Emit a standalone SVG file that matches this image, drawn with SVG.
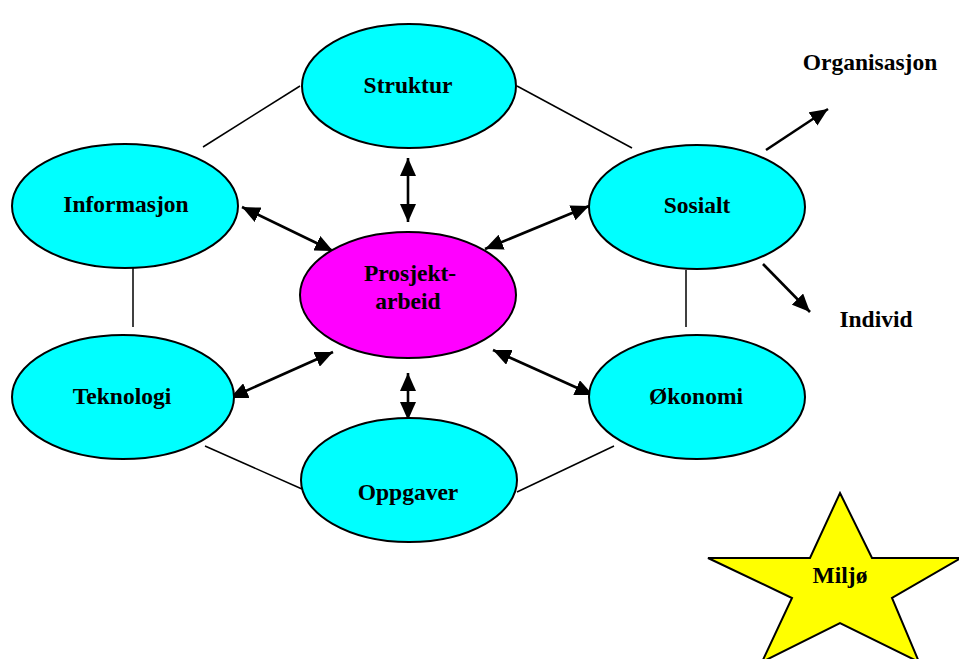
<svg xmlns="http://www.w3.org/2000/svg" width="959" height="659" viewBox="0 0 959 659">
  <defs>
    <style>
      .cyan { fill: #00ffff; stroke: #000; stroke-width: 2; }
      .magenta { fill: #ff00ff; stroke: #000; stroke-width: 2; }
      .star { fill: #ffff00; stroke: #000; stroke-width: 2; stroke-linejoin: miter; }
      .lbl { font-family: "Liberation Serif", "Times New Roman", serif; font-weight: bold; font-size: 23.5px; fill: #000; text-anchor: middle; }
      .link { stroke: #000; stroke-width: 1.5; fill: none; }
      .arrow { stroke: #000; stroke-width: 2.6; fill: none; marker-end: url(#head); }
      .both { marker-start: url(#head); }
    </style>
    <marker id="head" markerUnits="userSpaceOnUse" viewBox="0 0 18 16" refX="18" refY="8" markerWidth="18" markerHeight="16" orient="auto-start-reverse">
      <path d="M0,0 L18,8 L0,16 z" fill="#000"/>
    </marker>
  </defs>

  <rect width="959" height="659" fill="#fff"/>

  <!-- connectors -->
  <g id="connectors">
    <line class="link" x1="300" y1="86" x2="203" y2="147"/>
    <line class="link" x1="517" y1="86" x2="632" y2="148"/>
    <line class="link" x1="133" y1="268" x2="133" y2="327"/>
    <line class="link" x1="686" y1="270" x2="686" y2="327"/>
    <line class="link" x1="205" y1="446" x2="302" y2="489"/>
    <line class="link" x1="614" y1="446" x2="517" y2="492"/>

    <line class="arrow both" x1="242" y1="207" x2="333" y2="251"/>
    <line class="arrow both" x1="408" y1="158" x2="408" y2="222"/>
    <line class="arrow both" x1="589" y1="206" x2="485" y2="249"/>
    <line class="arrow both" x1="230" y1="398" x2="333" y2="352"/>
    <line class="arrow both" x1="408" y1="373" x2="408" y2="420"/>
    <line class="arrow both" x1="493" y1="350" x2="593" y2="395"/>
    <line class="arrow" x1="766" y1="150" x2="828" y2="109"/>
    <line class="arrow" x1="763" y1="264" x2="810" y2="312"/>
  </g>

  <!-- nodes -->
  <g id="struktur">
    <ellipse class="cyan" cx="409" cy="86" rx="107" ry="62"/>
    <text class="lbl" x="408" y="93">Struktur</text>
  </g>
  <g id="informasjon">
    <ellipse class="cyan" cx="125" cy="206" rx="113" ry="62"/>
    <text class="lbl" x="126" y="212">Informasjon</text>
  </g>
  <g id="sosialt">
    <ellipse class="cyan" cx="697" cy="207" rx="108" ry="62"/>
    <text class="lbl" x="697" y="213">Sosialt</text>
  </g>
  <g id="prosjektarbeid">
    <ellipse class="magenta" cx="408" cy="295" rx="108" ry="63"/>
    <text class="lbl" x="410" y="281">Prosjekt-</text>
    <text class="lbl" x="408" y="309">arbeid</text>
  </g>
  <g id="teknologi">
    <ellipse class="cyan" cx="123" cy="397" rx="111" ry="62"/>
    <text class="lbl" x="122" y="404">Teknologi</text>
  </g>
  <g id="okonomi">
    <ellipse class="cyan" cx="697" cy="397" rx="108" ry="62"/>
    <text class="lbl" x="696" y="404">Økonomi</text>
  </g>
  <g id="oppgaver">
    <ellipse class="cyan" cx="409" cy="480" rx="108" ry="62"/>
    <text class="lbl" x="408" y="500">Oppgaver</text>
  </g>
  <g id="organisasjon">
    <text class="lbl" x="870" y="70">Organisasjon</text>
  </g>
  <g id="individ">
    <text class="lbl" x="876" y="327">Individ</text>
  </g>
  <g id="miljo">
    <polygon class="star" points="840,493 872,558 961,558 892,598 919,662 840,623 762,662 792,598 708,558 810,558"/>
    <text class="lbl" x="840" y="583">Miljø</text>
  </g>
</svg>
